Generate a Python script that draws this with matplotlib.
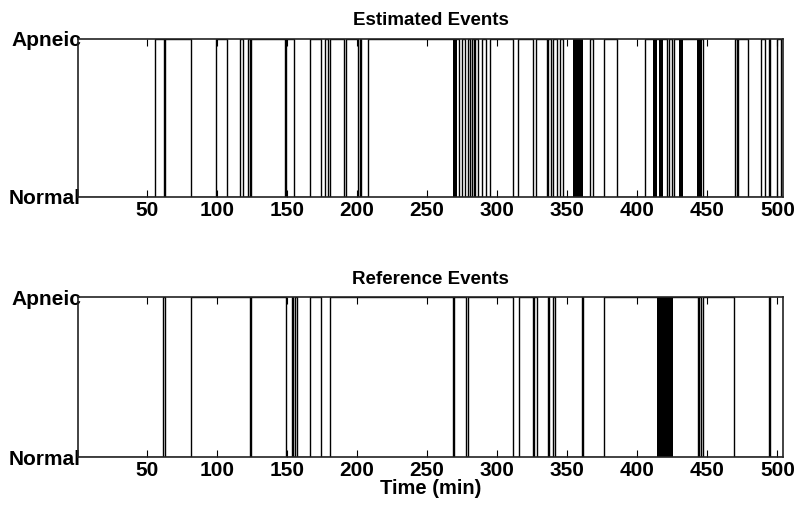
import numpy as np
import matplotlib
matplotlib.use("Agg")
import matplotlib.pyplot as plt

plt.rcParams['font.family'] = ['Liberation Sans', 'DejaVu Sans']

# Transition times (min) where the apnea state toggles
est_transitions = [56.0, 62.0, 63.2, 81.7, 99.5, 107.4, 116.6, 118.4,
                   122.2, 123.4, 124.6, 148.8, 149.6, 155.0, 166.5, 173.9,
                   176.9, 179.2, 180.4, 190.7, 192.4, 200.7, 201.9, 203.1,
                   207.9, 272.9, 274.8, 276.7, 279.0, 280.3, 282.0, 283.2,
                   284.4, 286.0, 289.0, 292.0, 295.0, 311.4, 315.0, 325.5,
                   327.8, 335.3, 336.4, 338.1, 339.6, 342.4, 344.8, 347.1,
                   366.5, 368.2, 376.0, 385.3, 405.5, 421.0, 422.9, 424.6,
                   426.2, 447.1, 469.9, 470.8, 471.7, 479.3, 488.3, 490.8,
                   494.3, 495.0, 500.0, 502.4]
# Dense runs of very short events (rendered solid)
est_dense = [(268.1, 271.2), (354.3, 361.4), (411.4, 413.9), (415.7, 418.6),
             (430.0, 432.9), (442.4, 446.0)]

ref_transitions = [61.5, 62.7, 81.7, 123.5, 124.3, 149.2, 153.3, 154.5,
                   155.6, 157.2, 166.2, 173.9, 181.0, 268.3, 269.0, 277.4,
                   279.3, 311.4, 315.5, 325.4, 326.2, 328.6, 336.0, 336.7,
                   339.6, 341.2, 360.5, 361.0, 376.4, 443.4, 444.2, 445.5,
                   447.1, 469.3, 494.3, 495.0]
ref_dense = [(413.8, 425.3)]

t_start, t_end = 1, 504
xticks = [50, 100, 150, 200, 250, 300, 350, 400, 450, 500]
ylabels = ['Normal', 'Apneic']
titles = ['Estimated Events', 'Reference Events']


def step_signal(transitions):
    t = np.concatenate([[t_start], np.repeat(transitions, 2), [t_end]])
    states = np.arange(len(transitions) + 1) % 2
    y = np.repeat(states, 2)
    return t, y


fig = plt.figure(figsize=(7.99, 5.09), dpi=100)
axes = [fig.add_axes([0.098, 0.6136, 0.882, 0.31]),
        fig.add_axes([0.098, 0.1016, 0.882, 0.314])]

for ax, trans, dense, title in zip(axes, [est_transitions, ref_transitions],
                                   [est_dense, ref_dense], titles):
    t, y = step_signal(trans)
    ax.plot(t, y, color='black', lw=1.0, solid_joinstyle='miter', zorder=2)
    for a, b in dense:
        ax.axvspan(a, b, color='black', lw=0)
    ax.set_xlim(t_start, t_end)
    ax.set_ylim(0, 1)
    ax.set_xticks(xticks)
    ax.set_xticklabels([str(v) for v in xticks], fontsize=15, fontweight='bold')
    ax.set_yticks([0, 1])
    ax.set_yticklabels(ylabels, fontsize=15, fontweight='bold')
    ax.tick_params(axis='x', direction='in', top=True, length=5, width=0.8, pad=3)
    ax.tick_params(axis='y', length=0, pad=-2)
    for s in ax.spines.values():
        s.set_linewidth(1.2)
        s.set_color('#222222')
        s.set_zorder(3)
    ax.set_title(title, fontsize=13.5, fontweight='bold', pad=10)

axes[1].set_xlabel('Time (min)', fontsize=14.5, fontweight='bold', labelpad=-1)

fig.savefig('out.png', dpi=100)
